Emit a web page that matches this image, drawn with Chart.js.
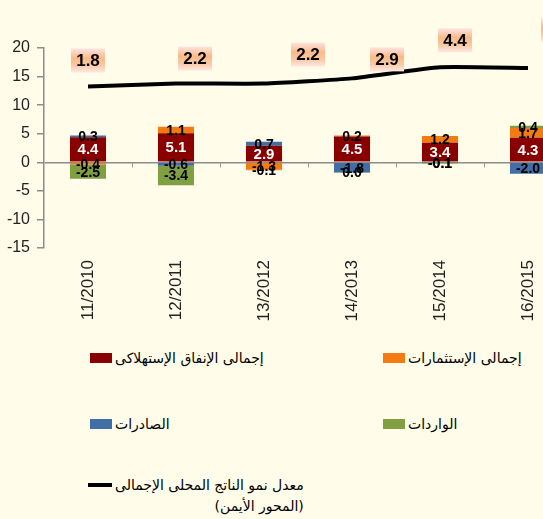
<!DOCTYPE html>
<html lang="ar">
<head>
<meta charset="utf-8">
<title>Contributions à la croissance du PIB</title>
<script src="https://cdn.jsdelivr.net/npm/chart.js@4.4.0/dist/chart.umd.min.js"></script>
<style>
    html, body { margin: 0; padding: 0; background: #FFFDE9; }
    #cadre { position: relative; width: 543px; height: 519px; overflow: hidden; background: #FFFDE9; }
    #graphique { position: absolute; left: 0; top: 0; }
    .legende { position: absolute; display: flex; align-items: flex-start; font-family: "DejaVu Sans", Arial, sans-serif; font-size: 14px; color: #000; white-space: pre-line; }
    .legende .carre { display: inline-block; width: 22px; height: 10px; margin-top: 5px; margin-right: 3px; }
    .legende .trait { display: inline-block; width: 24px; height: 4px; margin-top: 8px; margin-right: 3px; background: #000; }
    .legende .texte { text-align: right; line-height: 21px; }
</style>
</head>
<body>
<div id="cadre">
    <canvas id="graphique" width="600" height="330"></canvas>
</div>
<script>
// Données
const annees = ['11/2010', '12/2011', '13/2012', '14/2013', '15/2014', '16/2015'];
const consommation = [4.4, 5.1, 2.9, 4.5, 3.4, 4.3];
const investissements = [-0.4, 1.1, -1.3, 0.2, 1.2, 1.7];
const exportations = [0.3, -0.6, 0.7, -1.8, -0.1, -2.0];
const importations = [-2.5, -3.4, -0.1, -0.02, -0.1, 0.4];
const croissancePIB = [1.8, 2.2, 2.2, 2.9, 4.4, 4.3];
const ticksGauche = [20, 15, 10, 5, 0, -5, -10, -15];

// Décalage des étiquettes de la courbe (style)
const decalagesEtiquettes = [[0, -26], [19, -25], [44, -29], [35, -19], [15, -27], [30, -38]];
// Position des entrées de légende (style)
const positionsLegende = [
    { left: 90, top: 348 },
    { left: 383, top: 348 },
    { left: 90, top: 414 },
    { left: 383, top: 414 },
    { left: 88, top: 475 }
];

function formater(v) {
    return Math.abs(v) < 0.05 ? '0.0' : v.toFixed(1);
}

// Étiquettes des barres, boîtes de la courbe et petites graduations sur l'axe zéro
const pluginEtiquettes = {
    id: 'etiquettes',
    afterDatasetsDraw(chart) {
        const ctx = chart.ctx;
        const x = chart.scales.x;
        const y = chart.scales.y;
        ctx.save();

        // graduations de catégorie sur la ligne zéro
        ctx.strokeStyle = '#999';
        ctx.lineWidth = 1;
        const y0 = Math.round(y.getPixelForValue(0)) + 0.5;
        for (let i = 0; i < annees.length - 1; i++) {
            const xb = Math.round((x.getPixelForValue(i) + x.getPixelForValue(i + 1)) / 2) + 0.5;
            ctx.beginPath();
            ctx.moveTo(xb, y0);
            ctx.lineTo(xb, y0 + 5);
            ctx.stroke();
        }

        ctx.textAlign = 'center';
        ctx.textBaseline = 'middle';
        chart.data.datasets.forEach((ds, i) => {
            const meta = chart.getDatasetMeta(i);
            if (ds.type === 'line') {
                meta.data.forEach((pt, j) => {
                    const cx = pt.x + decalagesEtiquettes[j][0];
                    const cy = pt.y + decalagesEtiquettes[j][1];
                    const w = 34, h = 24;
                    const g = ctx.createLinearGradient(0, cy - h / 2, 0, cy + h / 2);
                    g.addColorStop(0, '#FDE4E2');
                    g.addColorStop(0.4, '#F9BA88');
                    g.addColorStop(0.7, '#FAC9A4');
                    g.addColorStop(1, '#FDE8E4');
                    ctx.fillStyle = g;
                    ctx.fillRect(cx - w / 2, cy - h / 2, w, h);
                    ctx.fillStyle = '#000';
                    ctx.font = 'bold 17px "Liberation Sans", Arial, sans-serif';
                    ctx.fillText(ds.data[j].toFixed(1), cx, cy + 1);
                });
            } else {
                meta.data.forEach((bar, j) => {
                    const yc = (bar.y + bar.base) / 2;
                    if (i === 0) {
                        ctx.fillStyle = '#fff';
                        ctx.font = 'bold 15px "Liberation Sans", Arial, sans-serif';
                    } else {
                        ctx.fillStyle = '#000';
                        ctx.font = 'bold 14px "Liberation Sans", Arial, sans-serif';
                    }
                    ctx.fillText(formater(ds.data[j]), bar.x, yc + 1);
                });
            }
        });
        ctx.restore();
    }
};

const canvas = document.getElementById('graphique');
const ctx = canvas.getContext('2d');

const graphique = new Chart(ctx, {
    type: 'bar',
    data: {
        labels: annees,
        datasets: [
            {
                label: 'إجمالى الإنفاق الإستهلاكى',
                data: consommation,
                backgroundColor: '#880000',
                barPercentage: 0.41,
                categoryPercentage: 1,
                yAxisID: 'y',
                order: 2
            },
            {
                label: 'إجمالى الإستثمارات',
                data: investissements,
                backgroundColor: '#F47B12',
                barPercentage: 0.41,
                categoryPercentage: 1,
                yAxisID: 'y',
                order: 2
            },
            {
                label: 'الصادرات',
                data: exportations,
                backgroundColor: '#416EA4',
                barPercentage: 0.41,
                categoryPercentage: 1,
                yAxisID: 'y',
                order: 2
            },
            {
                label: 'الواردات',
                data: importations,
                backgroundColor: '#7F9F42',
                barPercentage: 0.41,
                categoryPercentage: 1,
                yAxisID: 'y',
                order: 2
            },
            {
                type: 'line',
                label: 'معدل نمو الناتج المحلى الإجمالى\n(المحور الأيمن)',
                data: croissancePIB,
                borderColor: '#000',
                borderWidth: 4,
                pointRadius: 0,
                tension: 0.15,
                fill: false,
                yAxisID: 'y1',
                order: 1
            }
        ]
    },
    options: {
        responsive: false,
        animation: false,
        layout: {
            padding: { top: 48, right: 28, left: 0, bottom: 0 }
        },
        plugins: {
            legend: { display: false },
            tooltip: { enabled: false }
        },
        scales: {
            x: {
                stacked: true,
                grid: { display: false, drawTicks: false },
                border: { display: false },
                ticks: {
                    color: '#222',
                    font: { family: '"Liberation Sans", Arial, sans-serif', size: 17 },
                    minRotation: 90,
                    maxRotation: 90,
                    padding: 12
                },
                afterFit: s => { s.height = 82; }
            },
            y: {
                stacked: true,
                min: -15,
                max: 20,
                afterBuildTicks: s => { s.ticks = ticksGauche.map(v => ({ value: v })); },
                ticks: {
                    color: '#222',
                    font: { family: '"Liberation Sans", Arial, sans-serif', size: 16 },
                    padding: 7
                },
                grid: {
                    color: c => (c.tick && c.tick.value === 0 ? '#8C8C8C' : 'rgba(0,0,0,0)'),
                    tickColor: '#8C8C8C',
                    tickLength: 7,
                    lineWidth: 1.5
                },
                border: { color: '#8C8C8C', width: 1.5 },
                afterFit: s => { s.width = 44; }
            },
            y1: {
                display: false,
                min: -20,
                max: 7
            }
        }
    },
    plugins: [pluginEtiquettes]
});

// Légende HTML construite à partir des séries
const cadre = document.getElementById('cadre');
graphique.data.datasets.forEach((ds, i) => {
    const item = document.createElement('div');
    item.className = 'legende';
    item.style.left = positionsLegende[i].left + 'px';
    item.style.top = positionsLegende[i].top + 'px';
    const symbole = document.createElement('span');
    if (ds.type === 'line') {
        symbole.className = 'trait';
    } else {
        symbole.className = 'carre';
        symbole.style.background = ds.backgroundColor;
    }
    const texte = document.createElement('span');
    texte.className = 'texte';
    texte.dir = 'rtl';
    texte.textContent = ds.label;
    item.appendChild(symbole);
    item.appendChild(texte);
    cadre.appendChild(item);
});
</script>
</body>
</html>
